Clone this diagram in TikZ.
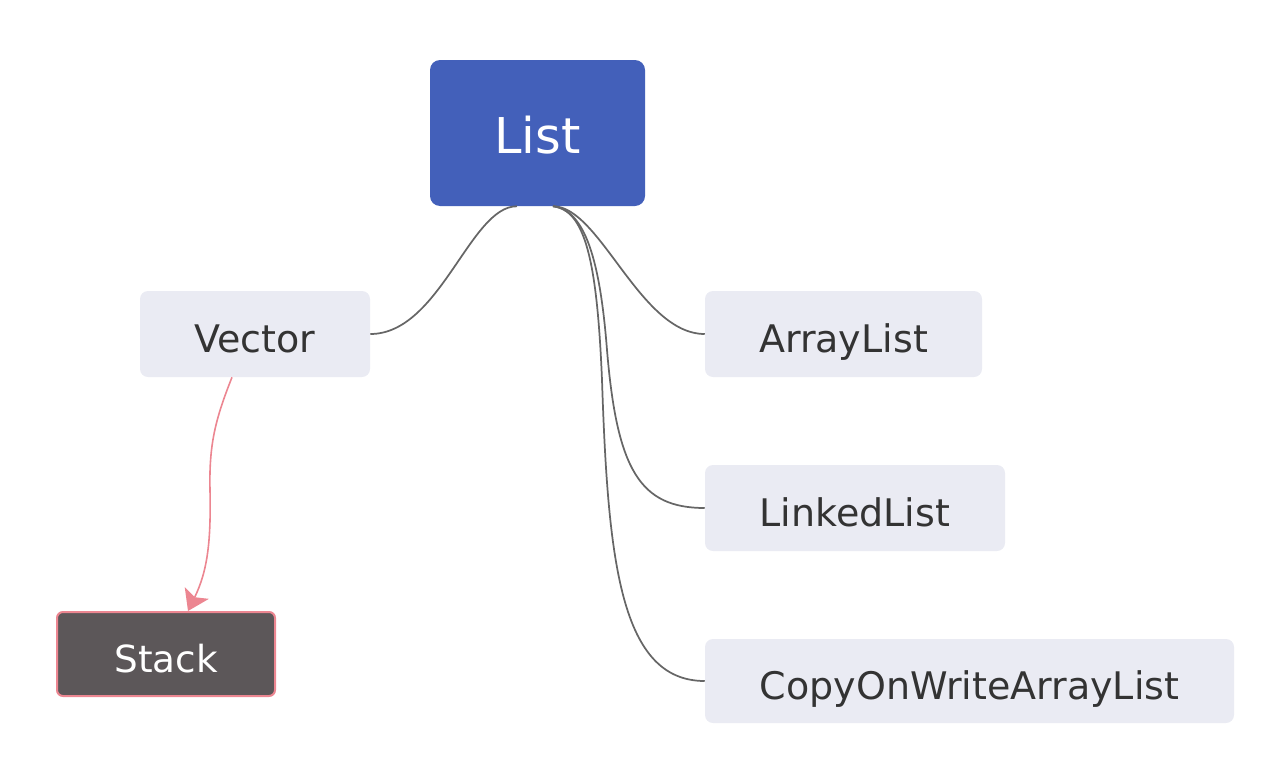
\documentclass[tikz,border=0pt]{standalone}
\usepackage{fontspec}
\setmainfont{DejaVu Sans}
\usepackage{tikz}
\usetikzlibrary{arrows.meta}

\definecolor{rootblue}{HTML}{4360BA}
\definecolor{childgrey}{HTML}{EAEBF3}
\definecolor{stackgrey}{HTML}{5C5759}
\definecolor{stackpink}{HTML}{EC8691}
\definecolor{linkgrey}{HTML}{666666}
\definecolor{textdark}{HTML}{333333}

\begin{document}
\begin{tikzpicture}[x=0.75pt,y=0.75pt,yscale=-1,xscale=1,
  root/.style={fill=rootblue,rounded corners=7.5pt,text=white,font=\fontsize{37}{40}\selectfont,inner sep=0pt,text height=30pt,text depth=0pt},
  child/.style={fill=childgrey,rounded corners=6pt,text=textdark,font=\fontsize{28.5}{32}\selectfont,inner sep=0pt,minimum height=64.5pt,text height=27pt,text depth=0pt},
  stackbox/.style={fill=stackgrey,draw=stackpink,line width=1.5pt,rounded corners=4.5pt,text=white,font=\fontsize{28}{32}\selectfont,inner sep=0pt,minimum height=63pt,text height=27pt,text depth=0pt},
  link/.style={draw=linkgrey,line width=1.3pt},
  inherit/.style={draw=stackpink,line width=1.2pt,-{Stealth[length=15pt,width=20pt,inset=3.5pt]}}]

\useasboundingbox (0,0) rectangle (1288,778);

\node [root,minimum width=161.25pt,minimum height=109.5pt] (list) at (537.5,133) {List};
\node [child,minimum width=172.5pt] (vector) at (255,334) {Vector};
\node [child,minimum width=207.75pt] (arraylist) at (843.5,334) {ArrayList};
\node [child,minimum width=225pt] (linkedlist) at (855,508) {LinkedList};
\node [child,minimum width=396.75pt,minimum height=63pt] (cowlist) at (969.5,681) {CopyOnWriteArrayList};
\node [stackbox,minimum width=163.5pt] (stack) at (166,654) {Stack};

\coordinate (lstL) at ([xshift=-15.4pt]list.south);
\coordinate (lstR) at ([xshift=11.6pt]list.south);

\draw [link] (lstL) .. controls (470,206) and (440,334) .. (vector.east);
\draw [link] (lstR) .. controls (600,206) and (640,334) .. (arraylist.west);
\draw [link] (lstR) .. controls (585,210) and (600,260) .. (607,350) .. controls (617,470) and (640,508) .. (linkedlist.west);
\draw [link] (lstR) .. controls (585,210) and (597,260) .. (602,380) .. controls (608,560) and (620,681) .. (cowlist.west);

\draw [inherit] ([xshift=-17.25pt]vector.south) .. controls (215,420) and (209,445) .. (210,490) .. controls (211,540) and (208,570) .. ([xshift=16.5pt]stack.north);

\end{tikzpicture}
\end{document}
